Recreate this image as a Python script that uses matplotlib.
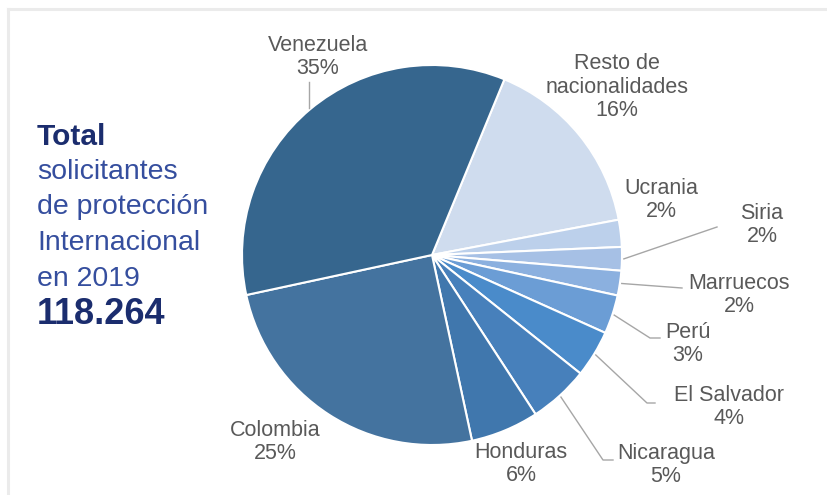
import matplotlib
matplotlib.use('Agg')
import numpy as np
from matplotlib import pyplot as plt
from matplotlib.lines import Line2D

plt.rcParams['font.family'] = ['Liberation Sans', 'DejaVu Sans']

# Data (clockwise from the top-right edge of Venezuela)
countries = ['Resto de\nnacionalidades', 'Ucrania', 'Siria', 'Marruecos', 'Perú',
             'El Salvador', 'Nicaragua', 'Honduras', 'Colombia', 'Venezuela']
shares = [15.8, 2.3, 2.0, 2.1, 3.3, 4.0, 5.1, 5.8, 25.0, 34.6]
colors = ['#CFDCEE', '#BCD0EB', '#A6C0E5', '#8BB0DF', '#6B9DD5',
          '#4A8BCA', '#4780BB', '#4077AD', '#44739F', '#36668E']

total_label = '118.264'
title_lines = ['solicitantes', 'de protección', 'Internacional', 'en 2019']

W, H = 828, 495
CX, CY, R = 432, 255, 190


def data_px(x, y):
    """pixel position in the image -> pie data coords"""
    return (x - CX) / R, (CY - y) / R


def fig_px(x, y):
    return x / W, 1 - y / H


# label centres and leader-line elbows (pixels)
label_pos = {
    'Venezuela': (318, 57), 'Resto de\nnacionalidades': (617, 87),
    'Ucrania': (661, 200), 'Siria': (762, 225), 'Marruecos': (739, 295),
    'Perú': (688, 344), 'El Salvador': (729, 407), 'Nicaragua': (666, 465),
    'Honduras': (521, 464), 'Colombia': (275, 442),
}
leaders = {
    'Venezuela': [(None, 82)],  # straight up from the edge
    'Siria': [(717, 227)],
    'Marruecos': [(682, 288)],
    'Perú': [(650, 338), (660, 338)],
    'El Salvador': [(647, 403), (655, 403)],
    'Nicaragua': [(603, 460), (613, 460)],
}

fig = plt.figure(figsize=(W / 100, H / 100), dpi=100)
ax = fig.add_axes([(CX - R) / W, (H - CY - R) / H, 2 * R / W, 2 * R / H])

wedges, _ = ax.pie(shares, colors=colors, startangle=67.6, counterclock=False,
                   radius=1, wedgeprops=dict(edgecolor='white', linewidth=1.5))
ax.set_xlim(-1, 1)
ax.set_ylim(-1, 1)
ax.axis('off')

for w, name, val in zip(wedges, countries, shares):
    lx, ly = data_px(*label_pos[name])
    ax.text(lx, ly, f'{name}\n{val:.0f}%', ha='center', va='center', fontsize=15.5,
            color='#595959', linespacing=1.15, clip_on=False)
    if name in leaders:
        mid = np.deg2rad((w.theta1 + w.theta2) / 2)
        sx, sy = np.cos(mid) * 1.01, np.sin(mid) * 1.01
        pts = [(sx, sy)]
        for px, py in leaders[name]:
            if px is None:
                pts.append((sx, data_px(0, py)[1]))
            else:
                pts.append(data_px(px, py))
        xs, ys = zip(*pts)
        ax.plot(xs, ys, color='#A6A6A6', lw=1, clip_on=False)

# left block of text
fig.text(*fig_px(37, 145), 'Total', fontsize=21.5, fontweight='bold', color='#1B2D6E', va='baseline')
for i, line in enumerate(title_lines):
    fig.text(*fig_px(37, 179 + i * 35.5), line, fontsize=20.5, color='#354E9E', va='baseline')
fig.text(*fig_px(37, 324), total_label, fontsize=26, fontweight='bold', color='#1B2D6E', va='baseline')

# light frame on top and left
fig.add_artist(Line2D([8 / W, 1], [1 - 9 / H, 1 - 9 / H], color='#EBEBEB', lw=2.2))
fig.add_artist(Line2D([8 / W, 8 / W], [0, 1 - 9 / H], color='#EBEBEB', lw=2.2))

fig.savefig('out.png', dpi=100)
